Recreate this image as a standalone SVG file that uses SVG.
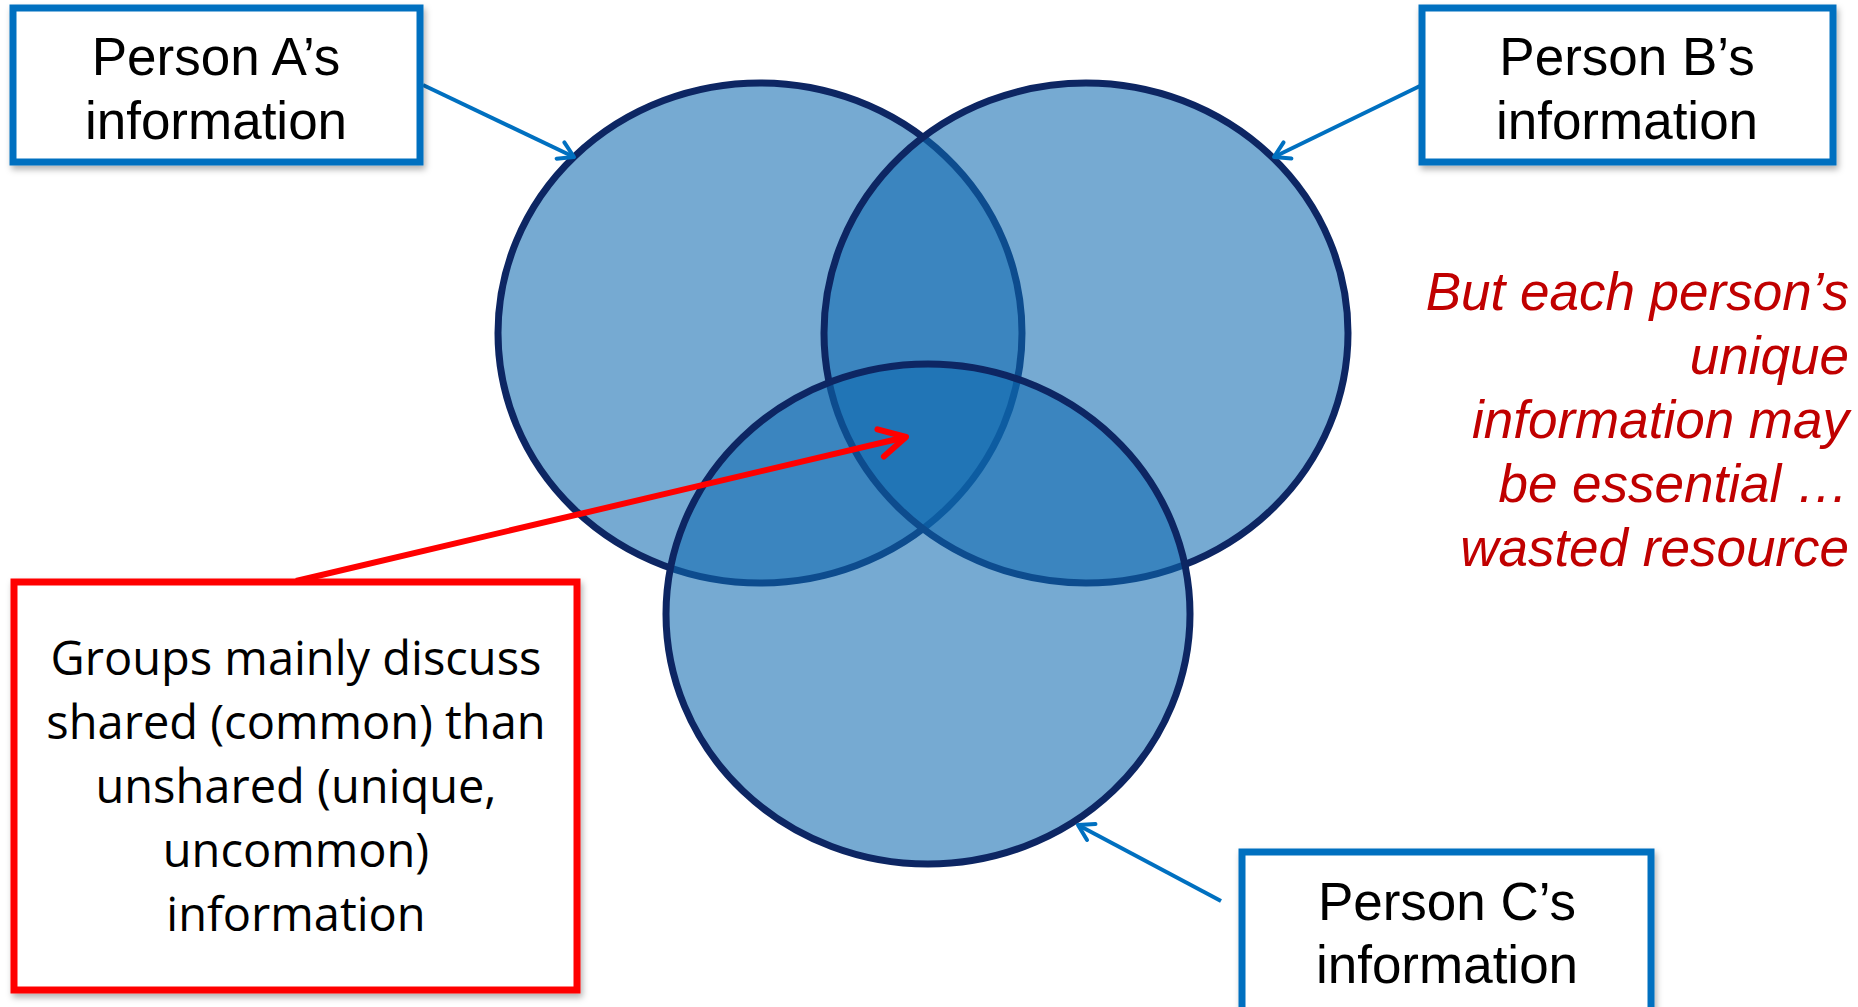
<svg xmlns="http://www.w3.org/2000/svg" width="1858" height="1007" viewBox="0 0 1858 1007">
<style>
.circle{fill:rgb(14,106,175);fill-opacity:0.57;stroke:#0d2663;stroke-width:7}
.bbox{fill:#fff;stroke:#0070c0;stroke-width:7}
.rbox{fill:#fff;stroke:#ff0000;stroke-width:7}
.lbl{font-family:"Liberation Sans",Arial,sans-serif;font-size:53px;fill:#000;text-anchor:middle}
.cal{font-family:"Open Sans","Noto Sans",sans-serif;font-size:47px;fill:#000;text-anchor:middle}
.note{font-family:"Liberation Sans",Arial,sans-serif;font-size:53px;font-style:italic;fill:#c00000;text-anchor:end}
.bl{stroke:#0070c0;stroke-width:4;fill:none}
.rl{stroke:#ff0000;stroke-width:6;fill:none}
</style>
<defs>
<filter id="sh" x="-10%" y="-10%" width="120%" height="130%">
<feDropShadow dx="2" dy="4" stdDeviation="3" flood-color="#000" flood-opacity="0.3"/>
</filter>
<marker id="ab" viewBox="-20 -12 24 24" refX="0" refY="0" markerWidth="24" markerHeight="24" markerUnits="userSpaceOnUse" orient="auto">
<path d="M -15 -9 L 0 0 L -15 9" fill="none" stroke="#0070c0" stroke-width="4" stroke-linecap="round" stroke-linejoin="round"/>
</marker>
<marker id="ar" viewBox="-34 -20 40 40" refX="0" refY="0" markerWidth="40" markerHeight="40" markerUnits="userSpaceOnUse" orient="auto">
<path d="M -26 -14 L 0 0 L -26 14" fill="none" stroke="#ff0000" stroke-width="6" stroke-linecap="round" stroke-linejoin="round"/>
</marker>
</defs>

<g id="venn">
<ellipse id="circleA" class="circle" cx="760" cy="333" rx="262" ry="250"/>
<ellipse id="circleB" class="circle" cx="1086" cy="333" rx="262" ry="250"/>
<ellipse id="circleC" class="circle" cx="928" cy="614" rx="262" ry="250"/>
</g>

<g id="connectors">
<line class="bl" x1="423" y1="85" x2="574" y2="157" marker-end="url(#ab)"/>
<line class="bl" x1="1422" y1="85" x2="1274" y2="157" marker-end="url(#ab)"/>
<line class="bl" x1="1221" y1="901" x2="1078" y2="825" marker-end="url(#ab)"/>
<line class="rl" x1="296" y1="581" x2="906" y2="437" marker-end="url(#ar)"/>
</g>

<g id="boxA">
<rect class="bbox" x="13" y="8" width="407" height="154" filter="url(#sh)"/>
<text class="lbl" x="216" y="75">Person A’s</text>
<text class="lbl" x="216" y="139">information</text>
</g>

<g id="boxB">
<rect class="bbox" x="1422" y="8" width="411" height="154" filter="url(#sh)"/>
<text class="lbl" x="1627" y="75">Person B’s</text>
<text class="lbl" x="1627" y="139">information</text>
</g>

<g id="boxC">
<rect class="bbox" x="1242" y="852" width="409" height="160" filter="url(#sh)"/>
<text class="lbl" x="1447" y="920">Person C’s</text>
<text class="lbl" x="1447" y="983">information</text>
</g>

<g id="boxGroups">
<rect class="rbox" x="14" y="582" width="563" height="408" filter="url(#sh)"/>
<text class="cal" x="296" y="675">Groups mainly discuss</text>
<text class="cal" x="296" y="739">shared (common) than</text>
<text class="cal" x="296" y="803">unshared (unique,</text>
<text class="cal" x="296" y="867">uncommon)</text>
<text class="cal" x="296" y="931">information</text>
</g>

<g id="note">
<text class="note" x="1849" y="310">But each person’s</text>
<text class="note" x="1849" y="374">unique</text>
<text class="note" x="1849" y="438">information may</text>
<text class="note" x="1849" y="502">be essential …</text>
<text class="note" x="1849" y="566">wasted resource</text>
</g>
</svg>
